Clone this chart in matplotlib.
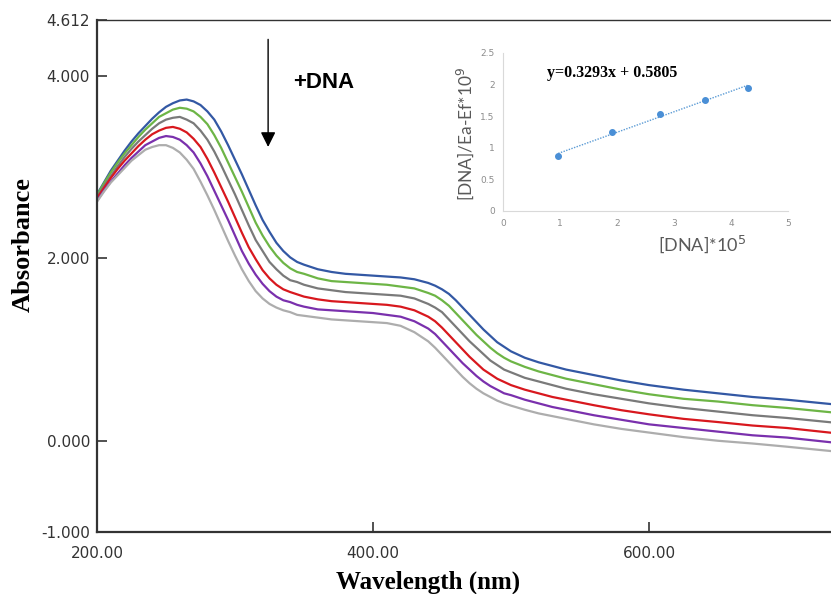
import numpy as np
import matplotlib
matplotlib.use("Agg")
import matplotlib.pyplot as plt

# wavelength grid (nm) and absorbance of the six titration spectra
wl = [200, 205, 210, 215, 220, 225, 230, 235, 240, 245, 250, 255, 260, 265, 270, 275,
      280, 285, 290, 295, 300, 305, 310, 315, 320, 325, 330, 335, 340, 345, 350,
      360, 370, 380, 390, 400, 410, 420, 430, 440,
      445, 450, 455, 460, 465, 470, 475, 480, 485, 490, 495, 500,
      510, 520, 530, 540, 560, 580, 600, 625, 650, 675, 700, 740]

blue = [2.70, 2.83, 2.96, 3.07, 3.18, 3.28, 3.37, 3.45, 3.53, 3.60, 3.66, 3.70, 3.73, 3.74, 3.72, 3.68,
        3.61, 3.52, 3.39, 3.24, 3.08, 2.92, 2.75, 2.58, 2.42, 2.29, 2.17, 2.08, 2.01, 1.96, 1.93,
        1.88, 1.85, 1.83, 1.82, 1.81, 1.80, 1.79, 1.77, 1.73,
        1.70, 1.66, 1.61, 1.54, 1.46, 1.38, 1.30, 1.22, 1.15, 1.08, 1.03, 0.98,
        0.91, 0.86, 0.82, 0.78, 0.72, 0.66, 0.61, 0.56, 0.52, 0.48, 0.45, 0.39]
green = [2.69, 2.82, 2.94, 3.05, 3.15, 3.24, 3.33, 3.41, 3.48, 3.55, 3.59, 3.63, 3.65, 3.64, 3.61, 3.55,
         3.47, 3.35, 3.21, 3.05, 2.89, 2.73, 2.56, 2.39, 2.25, 2.13, 2.03, 1.95, 1.89, 1.85, 1.83,
         1.78, 1.75, 1.74, 1.73, 1.72, 1.71, 1.69, 1.67, 1.62,
         1.59, 1.54, 1.48, 1.40, 1.32, 1.24, 1.16, 1.09, 1.02, 0.96, 0.91, 0.87,
         0.81, 0.76, 0.72, 0.68, 0.62, 0.56, 0.51, 0.46, 0.43, 0.39, 0.36, 0.30]
gray = [2.67, 2.79, 2.90, 3.01, 3.11, 3.20, 3.28, 3.35, 3.42, 3.48, 3.52, 3.54, 3.55, 3.52, 3.48, 3.40,
        3.30, 3.17, 3.02, 2.86, 2.70, 2.53, 2.36, 2.20, 2.08, 1.96, 1.88, 1.81, 1.76, 1.74, 1.71,
        1.67, 1.65, 1.63, 1.62, 1.61, 1.60, 1.59, 1.56, 1.50,
        1.46, 1.41, 1.33, 1.25, 1.17, 1.09, 1.02, 0.95, 0.88, 0.83, 0.78, 0.75,
        0.69, 0.65, 0.61, 0.57, 0.51, 0.46, 0.41, 0.36, 0.32, 0.28, 0.25, 0.19]
red = [2.66, 2.77, 2.88, 2.98, 3.07, 3.15, 3.23, 3.30, 3.36, 3.40, 3.43, 3.44, 3.42, 3.38, 3.31, 3.22,
       3.09, 2.94, 2.78, 2.62, 2.45, 2.28, 2.12, 1.99, 1.87, 1.78, 1.71, 1.66, 1.63, 1.605, 1.58,
       1.55, 1.53, 1.52, 1.51, 1.50, 1.49, 1.47, 1.43, 1.36,
       1.31, 1.24, 1.16, 1.08, 1.00, 0.92, 0.85, 0.78, 0.73, 0.68, 0.645, 0.61,
       0.56, 0.52, 0.48, 0.45, 0.39, 0.335, 0.29, 0.24, 0.205, 0.167, 0.14, 0.075]
purple = [2.63, 2.74, 2.84, 2.93, 3.02, 3.10, 3.17, 3.24, 3.28, 3.32, 3.34, 3.33, 3.30, 3.24, 3.16, 3.04,
          2.90, 2.74, 2.58, 2.42, 2.25, 2.08, 1.94, 1.82, 1.72, 1.64, 1.58, 1.54, 1.52, 1.49, 1.47,
          1.44, 1.43, 1.42, 1.41, 1.40, 1.38, 1.36, 1.31, 1.23,
          1.17, 1.09, 1.01, 0.93, 0.85, 0.78, 0.71, 0.65, 0.60, 0.56, 0.52, 0.50,
          0.45, 0.41, 0.37, 0.34, 0.28, 0.23, 0.18, 0.14, 0.10, 0.06, 0.035, -0.03]
lgray = [2.62, 2.73, 2.83, 2.91, 2.99, 3.07, 3.13, 3.19, 3.22, 3.24, 3.24, 3.21, 3.16, 3.08, 2.98, 2.84,
         2.69, 2.53, 2.36, 2.19, 2.03, 1.88, 1.75, 1.64, 1.56, 1.50, 1.46, 1.43, 1.41, 1.38, 1.37,
         1.35, 1.33, 1.32, 1.31, 1.30, 1.29, 1.26, 1.19, 1.09,
         1.02, 0.94, 0.86, 0.78, 0.70, 0.63, 0.57, 0.52, 0.48, 0.44, 0.41, 0.385,
         0.34, 0.30, 0.27, 0.24, 0.18, 0.13, 0.09, 0.04, 0.00, -0.03, -0.065, -0.125]

series = [blue, green, gray, red, purple, lgray]
colors = ["#3358a4", "#6db546", "#7a7a7a", "#d8181e", "#7a30ad", "#adadad"]

yticks = [-1.0, 0.0, 2.0, 4.0, 4.612]
ytick_labels = ["-1.000", "0.000", "2.000", "4.000", "4.612"]
xticks = [200, 400, 600]
xtick_labels = ["200.00", "400.00", "600.00"]

# inset: binding plot
dna = [0.97, 1.91, 2.75, 3.55, 4.29]
ratio = [0.87, 1.24, 1.53, 1.75, 1.95]
eq_label = "y=0.3293x + 0.5805"

W, H = 831, 594
fig = plt.figure(figsize=(W / 100, H / 100), dpi=100)

# main axes, right side cropped at the image border
left, right, top, bottom = 97, 831, 20, 532
ax = fig.add_axes([left / W, (H - bottom) / H, (right - left) / W, (bottom - top) / H])
for ys, c in zip(series, colors):
    ax.plot(wl, ys, color=c, lw=1.6, solid_capstyle="round")

ax.set_xlim(200, 200 + (right - left) * 200 / 276)
ax.set_ylim(-1.0, 4.612)
ax.set_yticks(yticks)
ax.set_yticklabels(ytick_labels)
ax.set_xticks(xticks)
ax.set_xticklabels(xtick_labels)
ax.tick_params(direction="in", length=7, width=1.2, color="#333333",
               labelcolor="#333333", labelsize=11)
ax.tick_params(axis="x", pad=10)
ax.tick_params(axis="y", pad=5)
for lab in ax.get_xticklabels() + ax.get_yticklabels():
    lab.set_family("DejaVu Sans")
ax.spines["right"].set_visible(False)
ax.spines["left"].set_linewidth(1.6)
ax.spines["bottom"].set_linewidth(1.6)
ax.spines["top"].set_linewidth(1.0)
for s in ax.spines.values():
    s.set_color("#333333")

fig.text(23 / W, (H - 245) / H, "Absorbance", rotation=90, ha="center", va="center",
         family="Liberation Serif", weight="bold", fontsize=19)
fig.text(428 / W, (H - 571) / H, "Wavelength (nm)", ha="center", va="top",
         family="Liberation Serif", weight="bold", fontsize=18)

# titration arrow
ax.annotate("", xy=(324, 3.19), xytext=(324, 4.43),
            arrowprops=dict(arrowstyle="-|>,head_length=0.6,head_width=0.3",
                            color="black", lw=1.0, mutation_scale=15))
fig.text(293 / W, (H - 82) / H, "+DNA", ha="left", va="center",
         family="Liberation Sans", weight="bold", fontsize=16)

# inset plot
il, ir, it, ib = 503, 788, 52.7, 211
ins = fig.add_axes([il / W, (H - ib) / H, (ir - il) / W, (ib - it) / H])
ins.patch.set_alpha(0)
k, b = np.polyfit(dna, ratio, 1)
xf = np.array([dna[0], dna[-1]])
ins.plot(xf, k * xf + b, ls=(0, (1, 1)), color="#5b9bd5", lw=1.0)
ins.scatter(dna, ratio, s=16, color="#4a8fd6", zorder=3)
ins.set_xlim(0, 5)
ins.set_ylim(0, 2.5)
ins.set_xticks(range(6))
ins.set_yticks([0, 0.5, 1, 1.5, 2, 2.5])
ins.set_yticklabels(["0", "0.5", "1", "1.5", "2", "2.5"])
ins.tick_params(length=0, labelsize=6.5, labelcolor="#8c8c8c", pad=6)
for s in ["top", "right"]:
    ins.spines[s].set_visible(False)
for s in ["left", "bottom"]:
    ins.spines[s].set_color("#d9d9d9")
    ins.spines[s].set_linewidth(0.8)
ins.text(0.382, 0.872, eq_label, transform=ins.transAxes, ha="center", va="center",
         family="Liberation Serif", weight="bold", fontsize=11.5)
ins.text(0.698, -0.21, "[DNA]*10$^5$", transform=ins.transAxes, ha="center", va="center",
         family="Lato", fontsize=13, color="#595959")
ins.text(-0.134, 0.49, "[DNA]/Ea-Ef*10$^9$", transform=ins.transAxes, rotation=90,
         ha="center", va="center", family="Lato", fontsize=12.5, color="#595959")

fig.savefig("out.png", dpi=100)
